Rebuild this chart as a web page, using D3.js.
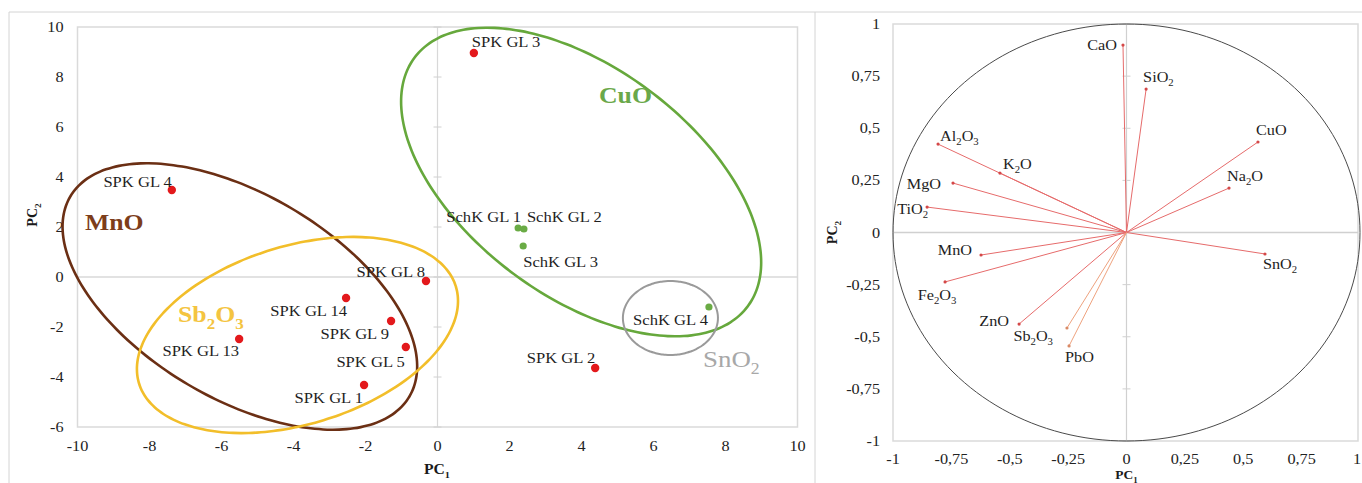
<!DOCTYPE html>
<html><head><meta charset="utf-8">
<script src="https://cdn.jsdelivr.net/npm/d3@7"></script>
<style>body{margin:0;background:#fff}svg{display:block}text{font-family:"Liberation Serif","Times New Roman",serif}</style>
</head><body><svg id="c" width="1362" height="483"></svg>
<script>
// ---------- DATA ----------
// Left: PCA scores of samples
const sampleNames = ["SPK GL 3","SPK GL 4","SchK GL 1","SchK GL 2","SchK GL 3","SchK GL 4","SPK GL 2","SPK GL 8","SPK GL 14","SPK GL 9","SPK GL 5","SPK GL 1","SPK GL 13"];
const samplePC1 = [1.01,-7.38,2.24,2.40,2.38,7.54,4.38,-0.32,-2.54,-1.29,-0.88,-2.04,-5.51];
const samplePC2 = [8.96,3.48,1.96,1.92,1.24,-1.20,-3.64,-0.16,-0.84,-1.76,-2.80,-4.32,-2.48];
const sampleType = ["SPK","SPK","SchK","SchK","SchK","SchK","SPK","SPK","SPK","SPK","SPK","SPK","SPK"];
const xTicksLeft = [-10,-8,-6,-4,-2,0,2,4,6,8,10];
const xTickLabelsLeft = ["-10","-8","-6","-4","-2","0","2","4","6","8","10"];
const yTicksLeft = [-6,-4,-2,0,2,4,6,8,10];
const yTickLabelsLeft = ["-6","-4","-2","0","2","4","6","8","10"];
// Group ellipses (data units): center + two conjugate semi-axis vectors
const groupNames = ["MnO","Sb_2O_3","CuO","SnO_2"];
const groupCx = [-5.49,-3.89,3.99,6.47];
const groupCy = [-0.78,-2.32,3.80,-1.64];
const groupUx = [4.71,4.40,4.63,1.32];
const groupUy = [-4.00,1.94,-4.97,0];
const groupVx = [-1.44,0.725,-1.89,0];
const groupVy = [-3.52,-3.41,-3.66,1.48];
// Right: loadings (correlation circle)
const oxideNames = ["CaO","SiO_2","CuO","Na_2O","SnO_2","Al_2O_3","K_2O","MgO","TiO_2","MnO","Fe_2O_3","ZnO","Sb_2O_3","PbO"];
const oxidePC1 = [-0.015,0.084,0.563,0.439,0.593,-0.807,-0.542,-0.743,-0.854,-0.623,-0.777,-0.460,-0.255,-0.246];
const oxidePC2 = [0.899,0.688,0.434,0.213,-0.103,0.424,0.285,0.237,0.122,-0.108,-0.237,-0.439,-0.458,-0.544];
const ticksRight = [-1,-0.75,-0.5,-0.25,0,0.25,0.5,0.75,1];
const tickLabelsRight = ["-1","-0,75","-0,5","-0,25","0","0,25","0,5","0,75","1"];

// ---------- STYLE / PLACEMENT ----------
const sampleLabelPos = { // [dx, dy, anchor]
 "SPK GL 3":[-2,-6,"start"],"SPK GL 4":[0,-3,"end"],"SchK GL 1":[3,-6,"end"],"SchK GL 2":[3,-7,"start"],
 "SchK GL 3":[0,21,"start"],"SchK GL 4":[-1,18,"end"],"SPK GL 2":[0,-5,"end"],"SPK GL 8":[-1,-4,"end"],
 "SPK GL 14":[1,18,"end"],"SPK GL 9":[-2,18,"end"],"SPK GL 5":[-1,20,"end"],"SPK GL 1":[-1,18,"end"],"SPK GL 13":[0,17,"end"]};
const groupStyle = {
 "MnO":{stroke:"#6b2f14",fill:"#7d3d1a",lx:85,ly:230,weight:"bold"},
 "Sb_2O_3":{stroke:"#f2be2a",fill:"#f4c440",lx:178,ly:322,weight:"bold"},
 "CuO":{stroke:"#66a83c",fill:"#6aa84a",lx:599,ly:103,weight:"bold"},
 "SnO_2":{stroke:"#9a9a9a",fill:"#a8a8a8",lx:703,ly:367,weight:"normal"}};
const oxideLabelPos = {
 "CaO":[-6,5,"end"],"SiO_2":[-3,-7,"start"],"CuO":[-2,-7,"start"],"Na_2O":[-2,-7,"start"],"SnO_2":[-2,15,"start"],
 "Al_2O_3":[2,-3,"start"],"K_2O":[3,-4,"start"],"MgO":[-12,6,"end"],"TiO_2":[1,7,"end"],"MnO":[-9,0,"end"],
 "Fe_2O_3":[-8,18,"middle"],"ZnO":[-10,2,"end"],"Sb_2O_3":[-14,13,"end"],"PbO":[-4,16,"start"]};

const SX = 1.12;
const svg = d3.select("#c");

function richText(g, x, y, str, size, o={}) {
  const t = g.append("text")
    .attr("transform", o.rotate ? `translate(${x},${y}) rotate(-90)` : `translate(${x},${y}) scale(${SX},1)`)
    .attr("font-size", size)
    .attr("text-anchor", o.anchor || "start")
    .attr("fill", o.fill || "#1a1a1a")
    .attr("font-weight", o.weight || "normal");
  const parts = str.split(/(_\d)/).filter(s => s.length);
  const sub = size * 0.3;
  let shifted = false;
  parts.forEach(p => {
    if (p.startsWith("_")) {
      t.append("tspan").attr("font-size", size * 0.66).attr("dy", shifted ? 0 : sub).text(p.slice(1));
      shifted = true;
    } else {
      t.append("tspan").attr("dy", shifted ? -sub : 0).text(p);
      shifted = false;
    }
  });
  return t;
}

// outer frame
svg.append("path").attr("d","M9,483V12H1362").attr("fill","none").attr("stroke","#d4d4d4");
svg.append("line").attr("x1",815).attr("x2",815).attr("y1",12).attr("y2",483).attr("stroke","#d4d4d4");

// ---------- LEFT PANEL ----------
const xL = d3.scaleLinear().domain([-10,10]).range([77.5,797.5]);
const yL = d3.scaleLinear().domain([-6,10]).range([427,27]);
const gL = svg.append("g");
gL.append("rect").attr("x",xL(-10)).attr("y",yL(10)).attr("width",xL(10)-xL(-10)).attr("height",yL(-6)-yL(10))
  .attr("fill","none").attr("stroke","#dadada").attr("stroke-width",1.5);
gL.append("line").attr("x1",xL(-10)).attr("x2",xL(10)).attr("y1",yL(0)).attr("y2",yL(0)).attr("stroke","#d8d8d8").attr("stroke-width",1.5);
gL.append("line").attr("x1",xL(0)).attr("x2",xL(0)).attr("y1",yL(-6)).attr("y2",yL(10)).attr("stroke","#d8d8d8").attr("stroke-width",1.2);
gL.selectAll(".vt").data(yTicksLeft).join("line").attr("x1",xL(0)-4).attr("x2",xL(0)+4).attr("y1",d=>yL(d)).attr("y2",d=>yL(d)).attr("stroke","#d0d0d0");

yTicksLeft.forEach((d,i)=>richText(gL, xL(-10)-14, yL(d)+5, yTickLabelsLeft[i], 14.5, {anchor:"end", fill:"#222"}));
xTicksLeft.forEach((d,i)=>richText(gL, xL(d), yL(-6)+24, xTickLabelsLeft[i], 14.5, {anchor:"middle", fill:"#222"}));
richText(gL, 437, 474, "PC_1", 14, {anchor:"middle", weight:"bold"});
richText(gL, 37, 215, "PC_2", 14, {anchor:"middle", weight:"bold", rotate:true});

// ellipses
const ts = d3.range(0, 361, 3).map(d => d * Math.PI / 180);
groupNames.forEach((n,i)=>{
  const pts = ts.map(t => [groupCx[i] + groupUx[i]*Math.cos(t) + groupVx[i]*Math.sin(t),
                           groupCy[i] + groupUy[i]*Math.cos(t) + groupVy[i]*Math.sin(t)]);
  gL.append("path").attr("d", d3.line().x(p=>xL(p[0])).y(p=>yL(p[1])).curve(d3.curveCardinalClosed)(pts))
    .attr("fill","none").attr("stroke",groupStyle[n].stroke).attr("stroke-width", n==="SnO_2"?2:2.6);
});
groupNames.forEach(n=>{
  const s = groupStyle[n];
  richText(gL, s.lx, s.ly, n, n==="SnO_2"?24:23, {fill:s.fill, weight:s.weight});
});

// points + labels
sampleNames.forEach((n,i)=>{
  const px = xL(samplePC1[i]), py = yL(samplePC2[i]);
  gL.append("circle").attr("cx",px).attr("cy",py).attr("r", sampleType[i]==="SPK"?4.2:3.6)
    .attr("fill", sampleType[i]==="SPK" ? "#e3191c" : "#6aab45");
});
sampleNames.forEach((n,i)=>{
  const px = xL(samplePC1[i]), py = yL(samplePC2[i]);
  const p = sampleLabelPos[n];
  richText(gL, px+p[0], py+p[1], n, 14.8, {anchor:p[2], fill:"#1e1e1e"});
});

// ---------- RIGHT PANEL ----------
const xR = d3.scaleLinear().domain([-1,1]).range([893,1360]);
const yR = d3.scaleLinear().domain([-1,1]).range([441,24]);
const gR = svg.append("g");
gR.append("rect").attr("x",xR(-1)).attr("y",yR(1)).attr("width",1358-xR(-1)).attr("height",yR(-1)-yR(1))
  .attr("fill","none").attr("stroke","#dadada").attr("stroke-width",1.5);
gR.append("line").attr("x1",xR(-1)).attr("x2",1358).attr("y1",yR(0)).attr("y2",yR(0)).attr("stroke","#d0d0d0").attr("stroke-width",1.3);
gR.append("line").attr("x1",xR(0)).attr("x2",xR(0)).attr("y1",yR(-1)).attr("y2",yR(1)).attr("stroke","#d0d0d0").attr("stroke-width",1.2);
gR.selectAll(".vt").data(ticksRight).join("line").attr("x1",xR(0)-4).attr("x2",xR(0)+4).attr("y1",d=>yR(d)).attr("y2",d=>yR(d)).attr("stroke","#d0d0d0");

ticksRight.forEach((d,i)=>richText(gR, xR(-1)-13, yR(d)+5, tickLabelsRight[i], 14.5, {anchor:"end", fill:"#222"}));
ticksRight.forEach((d,i)=>{
  const last = i === ticksRight.length-1;
  richText(gR, last ? 1361 : xR(d), yR(-1)+23, tickLabelsRight[i], 14.5, {anchor: last ? "end" : "middle", fill:"#222"});
});
richText(gR, xR(0), 479, "PC_1", 12, {anchor:"middle", weight:"bold"});
richText(gR, 837, yR(0), "PC_2", 14, {anchor:"middle", weight:"bold", rotate:true});

// unit circle
const cpts = d3.range(0, 361, 2).map(d => [Math.cos(d*Math.PI/180), Math.sin(d*Math.PI/180)]);
gR.append("path").attr("d", d3.line().x(p=>xR(p[0])).y(p=>yR(p[1]))(cpts))
  .attr("fill","none").attr("stroke","#4a4a4a").attr("stroke-width",1);

oxideNames.forEach((n,i)=>{
  const orange = (n==="Sb_2O_3"||n==="PbO");
  gR.append("line").attr("x1",xR(0)).attr("y1",yR(0)).attr("x2",xR(oxidePC1[i])).attr("y2",yR(oxidePC2[i]))
    .attr("stroke", orange ? "#eea27e" : "#e66b6b").attr("stroke-width",1);
  gR.append("circle").attr("cx",xR(oxidePC1[i])).attr("cy",yR(oxidePC2[i])).attr("r",1.6).attr("fill", orange ? "#d98a66" : "#d44848");
});
oxideNames.forEach((n,i)=>{
  const p = oxideLabelPos[n];
  richText(gR, xR(oxidePC1[i])+p[0], yR(oxidePC2[i])+p[1], n, 14.5, {anchor:p[2], fill:"#1e1e1e"});
});
</script></body></html>
